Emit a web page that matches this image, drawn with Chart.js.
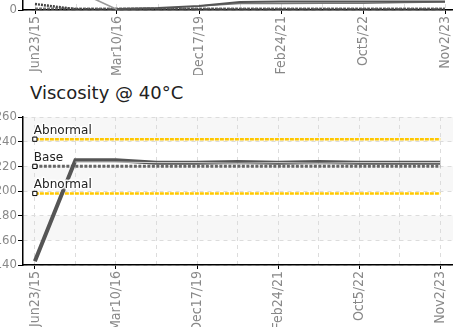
<!DOCTYPE html>
<html>
<head>
<meta charset="utf-8">
<script src="https://cdn.jsdelivr.net/npm/chart.js@4.4.0/dist/chart.umd.min.js"></script>
<style>
  html, body { margin: 0; padding: 0; background: #fff; overflow: hidden; width: 453px; height: 327px; }
  canvas { position: absolute; left: 0; }
  #top-chart { top: -150px; }
  #visc-chart { top: 100px; }
  .title { position: absolute; left: 30px; top: 82px; font: 18px 'DejaVu Sans', sans-serif; line-height: 21px; color: #222; white-space: nowrap; }
</style>
</head>
<body>
<canvas id="top-chart" width="470" height="225"></canvas>
<div class="title">Viscosity @ 40°C</div>
<canvas id="visc-chart" width="470" height="230"></canvas>
<script>
// sample dates (every other sample is labelled on the axis)
const sampleLabels = ['Jun23/15', '', 'Mar10/16', '', 'Dec17/19', '', 'Feb24/21', '', 'Oct5/22', '', 'Nov2/23'];

// viscosity @ 40C
const viscValues = [143, 225, 225, 223, 223, 223.5, 223, 223.5, 223, 223, 223];
const viscValues2 = [null, 223.5, 223.5, 223, 223, 222.5, 223, 222.5, 223, 223, 223];
const viscAbnormalHigh = [242, 242, 242, 242, 242, 242, 242, 242, 242, 242, 242];
const viscBase = [220, 220, 220, 220, 220, 220, 220, 220, 220, 220, 220];
const viscAbnormalLow = [198, 198, 198, 198, 198, 198, 198, 198, 198, 198, 198];

// previous chart (only its bottom edge is visible)
const topDiag = [null, 13, 0.3, null, null, null, null, null, null, null, null];
const topA = [null, null, 0.7, 1.3, 2.7, 5.3, 5.7, 5.7, 5.7, 5.7, 5.7];
const topB = [null, null, null, null, 2.7, 4.3, 4.3, 4.5, 4.5, 5, 5.3];
const topC = [4, 0.5, 0.3, 0.3, 0.3, 0.3, 0.3, 0.3, 0.3, 0.3, 0.3];
const topBase = [1, 1, 1, 1, 1, 1, 1, 1, 1, 1, 1];

const tickFont = { family: "'DejaVu Sans Condensed', 'Liberation Sans Narrow', sans-serif", size: 14 };

function points(values) {
  return values.map((v, i) => ({ x: i, y: v }));
}

const bandPlugin = {
  id: 'bands',
  beforeDraw(chart, args, opts) {
    if (!opts.bands) return;
    const { ctx, chartArea, scales: { y } } = chart;
    ctx.save();
    ctx.fillStyle = opts.color;
    opts.bands.forEach(([a, b]) => {
      const y1 = y.getPixelForValue(b);
      const y2 = y.getPixelForValue(a);
      ctx.fillRect(chartArea.left, y1, chartArea.right - chartArea.left, y2 - y1);
    });
    ctx.restore();
  }
};

const markLabelPlugin = {
  id: 'markLabels',
  afterDatasetsDraw(chart, args, opts) {
    if (!opts.items) return;
    const { ctx, scales: { x, y } } = chart;
    ctx.save();
    ctx.font = "12px 'DejaVu Sans', sans-serif";
    ctx.textAlign = 'left';
    ctx.textBaseline = 'alphabetic';
    ctx.lineJoin = 'round';
    opts.items.forEach(item => {
      const px = x.getPixelForValue(0) - 1;
      const py = y.getPixelForValue(item.value) - 5;
      ctx.strokeStyle = 'rgba(255,255,255,0.9)';
      ctx.lineWidth = 3;
      ctx.strokeText(item.text, px, py);
      ctx.fillStyle = '#222';
      ctx.fillText(item.text, px, py);
    });
    ctx.restore();
  }
};

function thresholdSet(values, color, width, dash) {
  return {
    data: points(values),
    borderColor: color,
    borderWidth: width,
    borderDash: dash,
    pointStyle: 'rect',
    pointRadius: (c) => c.dataIndex === 0 ? 3 : 0,
    pointBackgroundColor: '#fff',
    pointBorderColor: '#000',
    pointBorderWidth: 1,
    order: 5
  };
}

function xScale() {
  return {
    type: 'linear',
    min: -12 / 41,
    max: -12 / 41 + 447 / 41,
    afterBuildTicks: (scale) => {
      scale.ticks = sampleLabels.map((l, i) => ({ value: i }));
    },
    afterFit: (scale) => { scale.height = 65; },
    ticks: {
      autoSkip: false,
      minRotation: 90,
      maxRotation: 90,
      padding: 2,
      color: '#888',
      font: tickFont,
      callback: (v) => sampleLabels[v] || ''
    },
    grid: {
      color: '#dcdcdc',
      tickLength: 4,
      tickColor: (c) => (c.index % 2 === 0 ? '#000' : 'rgba(0,0,0,0)')
    },
    border: { color: '#000', width: 1.5, dash: [4, 4] }
  };
}

function yScale(min, max, step) {
  return {
    min: min,
    max: max,
    afterFit: (scale) => { scale.width = 23; },
    ticks: { stepSize: step, padding: 1, color: '#888', font: { ...tickFont, size: 13 } },
    grid: { color: '#dcdcdc', tickLength: 5, tickColor: '#000' },
    border: { color: '#000', width: 1.5, dash: [4, 4] }
  };
}

function baseOptions(padTop) {
  return {
    responsive: false,
    animation: false,
    devicePixelRatio: 1,
    layout: { padding: { top: padTop, left: 0, right: 0, bottom: 0 } },
    plugins: { legend: { display: false }, tooltip: { enabled: false } },
    elements: { line: { tension: 0 }, point: { radius: 0 } }
  };
}

// previous chart, only the bottom part shows in the view
const topOptions = baseOptions(10);
topOptions.scales = { x: xScale(), y: yScale(0, 100, 20) };
new Chart(document.getElementById('top-chart'), {
  type: 'line',
  data: {
    datasets: [
      { data: points(topA), borderColor: '#555', borderWidth: 2 },
      { data: points(topB), borderColor: '#777', borderWidth: 1.5 },
      { data: points(topDiag), borderColor: '#999', borderWidth: 1.5 },
      { data: points(topC), borderColor: '#444', borderWidth: 2.5, borderDash: [2, 1] },
      { data: points(topBase), borderColor: '#777', borderWidth: 2, borderDash: [3, 1] }
    ]
  },
  options: topOptions
});

// viscosity chart
const viscOptions = baseOptions(17);
viscOptions.scales = { x: xScale(), y: yScale(140, 260, 20) };
viscOptions.plugins.bands = { color: '#f7f7f7', bands: [[240, 260], [200, 220], [160, 180]] };
viscOptions.plugins.markLabels = {
  items: [
    { text: 'Abnormal', value: viscAbnormalHigh[0] },
    { text: 'Base', value: viscBase[0] },
    { text: 'Abnormal', value: viscAbnormalLow[0] }
  ]
};
new Chart(document.getElementById('visc-chart'), {
  type: 'line',
  data: {
    datasets: [
      { data: points(viscValues2), borderColor: '#d8d8d8', borderWidth: 1, order: 0 },
      { data: points(viscValues), borderColor: '#555', borderWidth: 4, order: 1 },
      thresholdSet(viscAbnormalHigh, '#ffc800', 2.5, [4, 1]),
      thresholdSet(viscBase, '#666', 3, [3, 1.5]),
      thresholdSet(viscAbnormalLow, '#ffc800', 2.5, [4, 1])
    ]
  },
  options: viscOptions,
  plugins: [bandPlugin, markLabelPlugin]
});
</script>
</body>
</html>
